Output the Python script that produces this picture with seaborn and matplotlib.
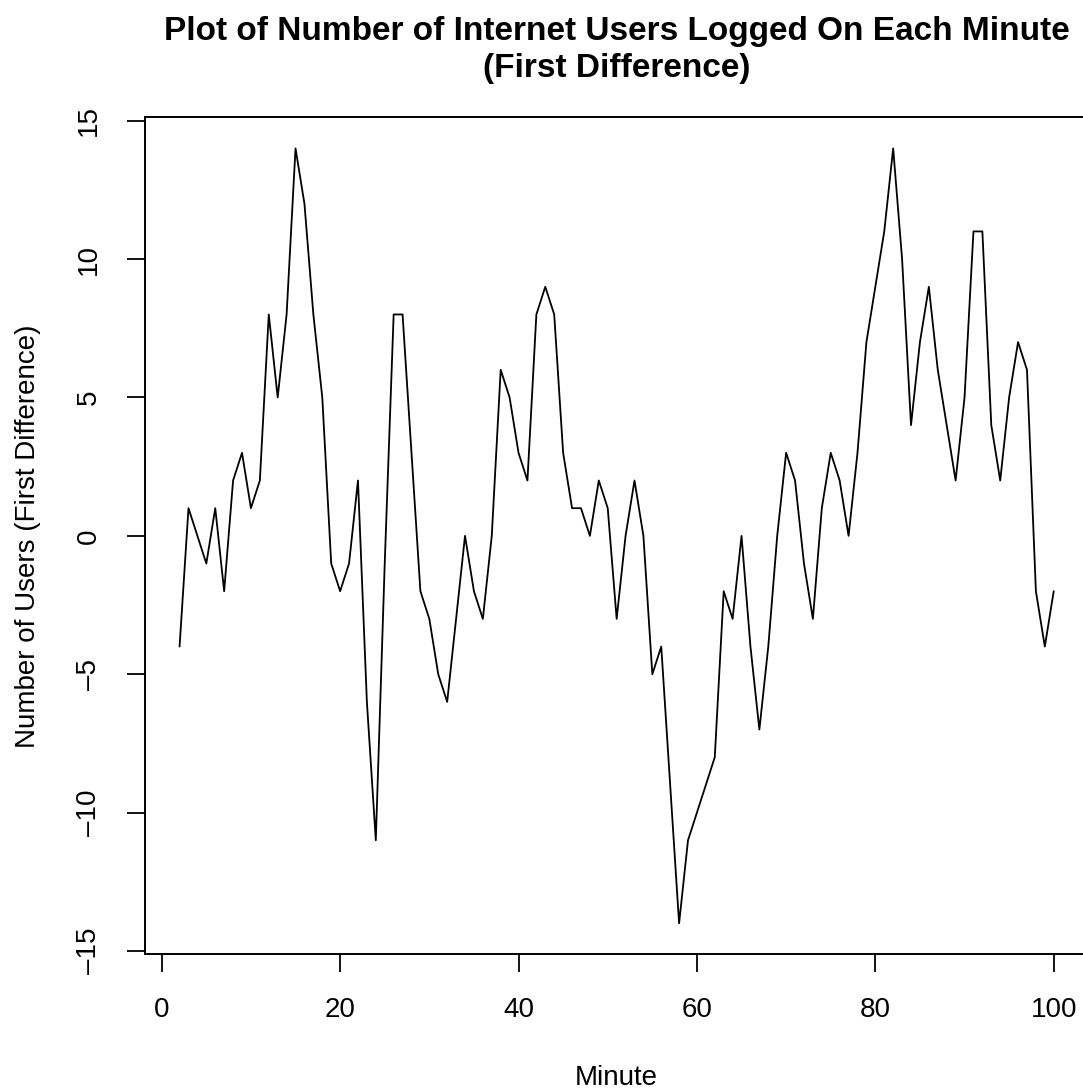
import numpy as np
import pandas as pd
import matplotlib
matplotlib.use("Agg")
import matplotlib.pyplot as plt
import seaborn as sns

# First differences of the per-minute count of logged-on internet users (minutes 2..100)
minutes = list(range(2, 101))
diff_users = [
    -4, 1, 0, -1, 1, -2, 2, 3, 1, 2, 8, 5, 8, 14, 12, 8, 5, -1, -2, -1,
    2, -6, -11, -1, 8, 8, 3, -2, -3, -5, -6, -3, 0, -2, -3, 0, 6, 5, 3, 2,
    8, 9, 8, 3, 1, 1, 0, 2, 1, -3, 0, 2, 0, -5, -4, -9, -14, -11, -10, -9,
    -8, -2, -3, 0, -4, -7, -4, 0, 3, 2, -1, -3, 1, 3, 2, 0, 3, 7, 9, 11,
    14, 10, 4, 7, 9, 6, 4, 2, 5, 11, 11, 4, 2, 5, 7, 6, -2, -4, -2,
]
x_ticks = [0, 20, 40, 60, 80, 100]
y_ticks = [-15, -10, -5, 0, 5, 10, 15]

title = "Plot of Number of Internet Users Logged On Each Minute\n(First Difference)"
x_label = "Minute"
y_label = "Number of Users (First Difference)"

df = pd.DataFrame({"minute": minutes, "diff": diff_users})

sns.set_style("white")
plt.rcParams["font.family"] = ["Liberation Sans", "DejaVu Sans"]
plt.rcParams["text.color"] = "black"
plt.rcParams["axes.labelcolor"] = "black"
plt.rcParams["xtick.color"] = "black"
plt.rcParams["ytick.color"] = "black"

W, H, DPI = 1083, 1089, 100
fig = plt.figure(figsize=(W / DPI, H / DPI), dpi=DPI)

# plot region in pixels (base-R style 4% padding around the data range)
left_px, right_px, top_px, bottom_px = 144.6, 1088.7, 117.4, 954.3
ax = fig.add_axes([left_px / W, 1 - bottom_px / H,
                   (right_px - left_px) / W, (bottom_px - top_px) / H])

sns.lineplot(data=df, x="minute", y="diff", ax=ax, color="black",
             linewidth=1.3, estimator=None)

xmin, xmax = min(minutes), max(minutes)
ymin, ymax = min(diff_users), max(diff_users)
xpad = 0.04 * (xmax - xmin)
ypad = 0.04 * (ymax - ymin)
ax.set_xlim(xmin - xpad, xmax + xpad)
ax.set_ylim(ymin - ypad, ymax + ypad)

ax.set_xticks(x_ticks)
ax.set_yticks(y_ticks)
ax.set_xticklabels([str(v) for v in x_ticks])
ax.set_yticklabels([str(v).replace("-", "\u2013") for v in y_ticks])

for s in ax.spines.values():
    s.set_visible(True)
    s.set_color("black")
    s.set_linewidth(1.4)

ax.tick_params(axis="both", which="major", direction="out", length=13,
               width=1.3, color="black", labelcolor="black", labelsize=20,
               pad=18, left=True, bottom=True)
for lab in ax.get_yticklabels():
    lab.set_rotation(90)
    lab.set_va("center")
    lab.set_ha("right")

ax.set_title(title, fontsize=24, fontweight="bold", pad=29, linespacing=1.27,
             color="black")

ax.set_xlabel(x_label, fontsize=20, color="black")
ax.xaxis.label.set_va("baseline")
ax.xaxis.set_label_coords(0.5, (bottom_px - 1085) / (bottom_px - top_px))

ax.set_ylabel(y_label, fontsize=20, color="black")
ax.yaxis.label.set_va("center")
ax.yaxis.set_label_coords((28 - left_px) / (right_px - left_px), 0.5)

ax.grid(False)
fig.savefig("out.png", dpi=DPI, facecolor="white")
